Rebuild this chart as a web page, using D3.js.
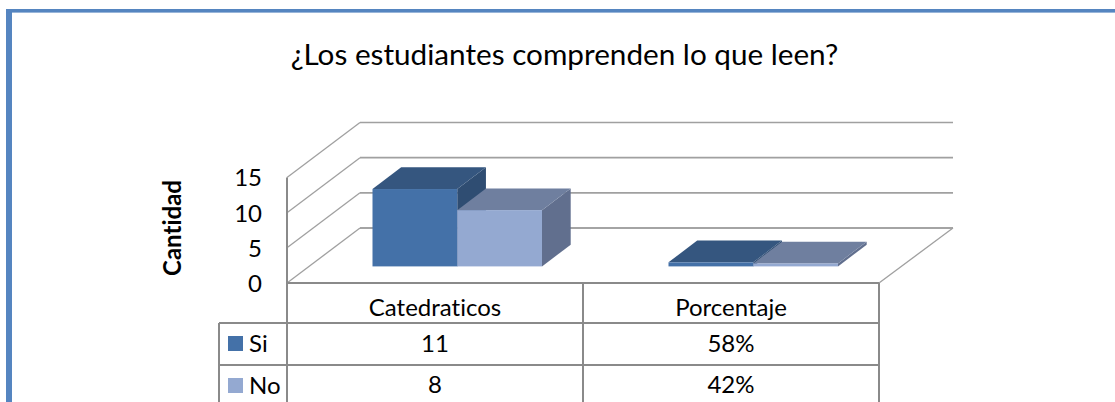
<!DOCTYPE html>
<html><head><meta charset="utf-8">
<script src="https://cdn.jsdelivr.net/npm/d3@7"></script>
<style>html,body{margin:0;padding:0;background:#fff;overflow:hidden}svg{display:block}text{font-family:Lato,"Open Sans",sans-serif;fill:#000;font-variant-ligatures:none}</style>
</head><body><svg id="c" width="1115" height="402"></svg>
<script>
const titleText = "¿Los estudiantes comprenden lo que leen?";
const yAxisTitle = "Cantidad";
const categories = ["Catedraticos", "Porcentaje"];
const seriesNames = ["Si", "No"];
const siValues = [11, 0.58];
const noValues = [8, 0.42];
const siLabels = ["11", "58%"];
const noLabels = ["8", "42%"];
const yTicks = [0, 5, 10, 15];
const frontColors = ["#4471a8", "#94a9d1"];
const topColors = ["#35567f", "#6f7f9f"];
const sideColors = ["#2f4d72", "#616f8e"];

const svg = d3.select("#c");
const W = 1115, H = 402;
const y = d3.scaleLinear().domain([0, 15]).range([283, 177.5]);
const x = d3.scaleBand().domain(categories).range([287, 879]);
const sub = d3.scaleBand().domain(seriesNames).range([0, 169.5]);
const depth = {dx: 73, dy: -55};
const barDepth = {dx: 28.7, dy: -21.7};
const floorShift = {dx: 0, dy: -16.6};
const groupOffset = 85.5;
const gridCol = "#a0a0a0", axisCol = "#868686";

// frame
svg.append("rect").attr("x", 6).attr("y", 9).attr("width", 6).attr("height", H - 9).attr("fill", "#5585c0");
svg.append("rect").attr("x", 6).attr("y", 9).attr("width", W - 6).attr("height", 3.6).attr("fill", "#5585c0");

svg.append("text").attr("x", 564.5).attr("y", 65).attr("text-anchor", "middle").attr("font-size", 29.7).text(titleText);

const line = (x1, y1, x2, y2, col, w) => svg.append("line").attr("x1", x1).attr("y1", y1).attr("x2", x2).attr("y2", y2).attr("stroke", col).attr("stroke-width", w);

// walls
const [x0, x1] = x.range();
yTicks.forEach(t => {
  const yy = y(t);
  const c = t === 0 ? axisCol : gridCol;
  line(x0, yy, x0 + depth.dx, yy + depth.dy, gridCol, 1.3);
  line(x0 + depth.dx, yy + depth.dy, x1 + depth.dx + 1, yy + depth.dy, c, 1.6);
});
line(x1, y(0), x1 + depth.dx + 1, y(0) + depth.dy, gridCol, 1.3);

// bars
const poly = (pts, col) => svg.append("polygon").attr("points", pts.map(p => p.join(",")).join(" ")).attr("fill", col);
categories.forEach((c, ci) => {
  [siValues, noValues].forEach((vals, si) => {
    const name = seriesNames[si];
    const xl = x(c) + groupOffset + sub(name);
    const w = sub.bandwidth();
    const b = y(0) + floorShift.dy;
    const t = y(vals[ci]) + floorShift.dy;
    const d = barDepth;
    poly([[xl + w, t], [xl + w + d.dx, t + d.dy], [xl + w + d.dx, b + d.dy], [xl + w, b]], sideColors[si]);
    poly([[xl, t], [xl + d.dx, t + d.dy], [xl + w + d.dx, t + d.dy], [xl + w, t]], topColors[si]);
    svg.append("rect").attr("x", xl).attr("y", t).attr("width", w).attr("height", b - t).attr("fill", frontColors[si]);
  });
});

// y axis
const axis = d3.axisLeft(y).tickValues(yTicks).tickSize(0).tickPadding(0);
const ga = svg.append("g").attr("transform", "translate(262,0)").call(axis);
ga.select(".domain").remove();
ga.selectAll("text").attr("font-size", 24).attr("dy", "0.35em").style("font-family", "Lato");
svg.append("text").attr("transform", "translate(173,228) rotate(-90)").attr("text-anchor", "middle").attr("font-size", 24).attr("font-weight", "bold").attr("dy", "0.35em").text(yAxisTitle);

// table
const rowY = [283, 323, 365, 407];
const colX = [219, x0, x(categories[1]), x1];
const tc = "#8a8a8a";
const tw = 2;
line(x0, rowY[0], x1, rowY[0], tc, tw);
line(colX[0], rowY[1], x1, rowY[1], tc, tw);
line(colX[0], rowY[2], x1, rowY[2], tc, tw);
line(colX[0], rowY[1], colX[0], H, tc, tw);
line(colX[1], y(15), colX[1], H, tc, tw);
line(colX[2], rowY[0], colX[2], H, tc, tw);
line(colX[3], rowY[0], colX[3], H, tc, tw);

const cell = (cx, cy, s) => svg.append("text").attr("x", cx).attr("y", cy).attr("text-anchor", "middle").attr("dy", "0.35em").attr("font-size", 24).text(s);
categories.forEach((c, i) => {
  const cx = x(c) + x.bandwidth() / 2;
  cell(cx, 308, c);
  cell(cx, 344, siLabels[i]);
  cell(cx, 385, noLabels[i]);
});
seriesNames.forEach((n, i) => {
  const cy = [343.5, 385.5][i];
  svg.append("rect").attr("x", 228).attr("y", cy - 7.5).attr("width", 15).attr("height", 15).attr("fill", frontColors[i]);
  svg.append("text").attr("x", 249).attr("y", cy).attr("dy", "0.35em").attr("font-size", 24).text(n);
});
</script></body></html>
